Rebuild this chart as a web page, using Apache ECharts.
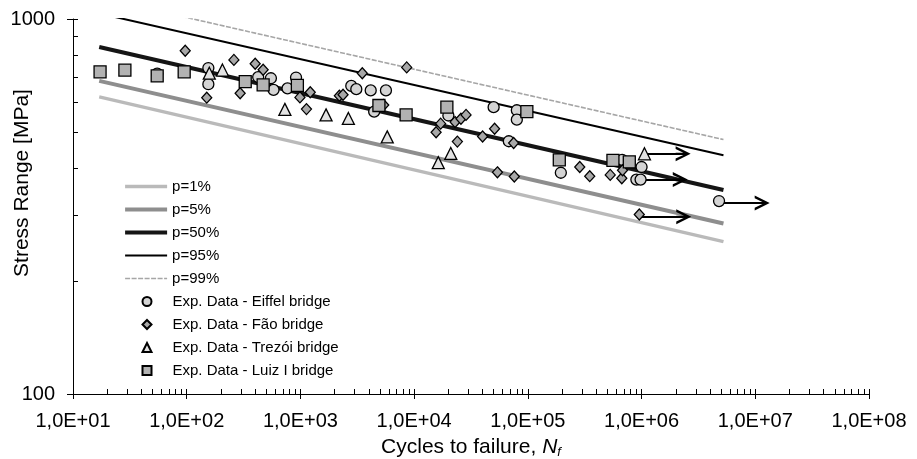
<!DOCTYPE html>
<html>
<head>
<meta charset="utf-8">
<title>S-N curves</title>
<script src="https://cdn.jsdelivr.net/npm/echarts@6/dist/echarts.min.js"></script>
<style>
  html, body { margin: 0; padding: 0; background: #fff; }
  #chart { width: 917px; height: 459px; }
</style>
</head>
<body>
<div id="chart"></div>
<script>
const FONT = '"Liberation Sans", Arial, Helvetica, sans-serif';

// Design curves for each probability of failure: [cycles, stress range] at both ends
const curveNames = ['p=1%', 'p=5%', 'p=50%', 'p=95%', 'p=99%'];
const curveP1  = [[17, 620], [5.25e6, 255]];
const curveP5  = [[17, 684], [5.25e6, 285]];
const curveP50 = [[17, 842], [5.25e6, 350]];
const curveP95 = [[17, 1035], [5.25e6, 433]];
const curveP99 = [[17, 1140], [5.25e6, 477]];

// Fatigue test results: [cycles to failure, stress range in MPa]
const seriesNames = [
  'Exp. Data - Eiffel bridge',
  'Exp. Data - Fão bridge',
  'Exp. Data - Trezói bridge',
  'Exp. Data - Luiz I bridge'
];
const eiffelData = [
  [55, 715], [155, 740], [155, 670], [425, 700], [550, 695], [580, 647],
  [915, 698], [770, 653], [2800, 663], [3100, 650], [4150, 645], [5650, 645],
  [4450, 566], [20000, 553], [50000, 582], [80000, 571], [80000, 539],
  [68000, 472], [195000, 389], [675000, 421], [1.0e6, 403], [900000, 373],
  [980000, 373], [4.8e6, 327]
];
const faoData = [
  [97, 823], [150, 617], [260, 778], [400, 760], [470, 732], [295, 634],
  [990, 618], [1220, 638], [1130, 575], [2200, 624], [2370, 628], [3500, 717],
  [8600, 743], [5400, 590], [17100, 526], [15600, 499], [22900, 531],
  [25800, 542], [28600, 555], [24000, 471], [51000, 510], [40000, 486],
  [75000, 467], [54000, 390], [76000, 380], [286000, 403], [350000, 381],
  [530000, 384], [670000, 376], [680000, 395], [955000, 301]
];
const trezoiData = [
  [158, 717], [206, 731], [730, 574], [1680, 555], [2640, 543], [5800, 485],
  [16300, 414], [21000, 438], [1.06e6, 437]
];
const luizData = [
  [17.3, 723], [28.6, 731], [55, 705], [95, 723], [327, 681], [470, 667],
  [940, 665], [4900, 588], [8500, 555], [19400, 582], [98000, 566],
  [189000, 421], [560000, 420], [780000, 416]
];

// Run-outs (tests stopped without failure): [from cycles, to cycles, stress]
const runOuts = [
  [1.06e6, 2.32e6, 437],
  [980000, 2.19e6, 373],
  [4.8e6, 1.15e7, 323],
  [955000, 2.35e6, 297]
];

// Axis ticks and their labels
const xTickValues = [1e1, 1e2, 1e3, 1e4, 1e5, 1e6, 1e7, 1e8];
const xTickLabels = ['1,0E+01', '1,0E+02', '1,0E+03', '1,0E+04', '1,0E+05', '1,0E+06', '1,0E+07', '1,0E+08'];
const yTickValues = [100, 1000];
const yTickLabels = ['100', '1000'];
const yTitle = 'Stress Range [MPa]';

// Logarithmic sub-ticks: 1..9 times each power of ten inside the axis range
function logSubTicks(lo, hi) {
  const out = [];
  for (let d = lo; d < hi; d *= 10) {
    for (let m = 1; m <= 9; m++) out.push(d * m);
  }
  out.push(hi);
  return out;
}
const xMinorValues = logSubTicks(1e1, 1e8);
const yMinorValues = logSubTicks(100, 1000);

function labelFor(values, labels) {
  return function (v) {
    let best = 0;
    for (let i = 1; i < values.length; i++) {
      if (Math.abs(Math.log10(values[i]) - Math.log10(v)) < Math.abs(Math.log10(values[best]) - Math.log10(v))) best = i;
    }
    return labels[best];
  };
}

// Open arrow head with its shaft, pointing along the run-out line
const ARROW = 'path://M0,15 L7,0 L14,15 L11.4,15 L8,7.27 L8,15 L6,15 L6,7.27 L2.6,15 Z';

function curve(name, data, color, width, type) {
  return {
    type: 'line', name: name, data: data, symbol: 'none', showSymbol: false,
    lineStyle: { color: color, width: width, type: type, cap: 'butt' },
    itemStyle: { color: color },
    z: 1, silent: true, animation: false
  };
}

function points(name, data, symbol, size, fill, z) {
  return {
    type: 'scatter', name: name, data: data, symbol: symbol, symbolSize: size,
    symbolKeepAspect: true,
    itemStyle: { color: fill, borderColor: '#000', borderWidth: 1.3, opacity: 1 },
    z: z, silent: true, animation: false
  };
}

const chart = echarts.init(document.getElementById('chart'), null, { renderer: 'canvas' });

const axisText = { fontSize: 20, fontFamily: FONT, color: '#000' };
const legendText = { fontSize: 15, fontFamily: FONT, color: '#000' };

chart.setOption({
  animation: false,
  backgroundColor: '#fff',
  textStyle: { fontFamily: FONT },
  grid: { left: 73, right: 48, top: 19, bottom: 65, outerBoundsMode: 'none', containLabel: false },
  legend: [
    {
      // probability curves: line sample only, drawn at the series' own width
      orient: 'vertical', left: 123, top: 179, padding: 0,
      itemWidth: 42, itemHeight: 9, itemGap: 8,
      selectedMode: false,
      lineStyle: { width: 'inherit' },
      data: curveNames.map(function (n) { return { name: n, itemStyle: { opacity: 0 } }; }),
      textStyle: legendText
    },
    {
      // test series: marker sample
      orient: 'vertical', left: 141.5, top: 294, padding: 0,
      itemWidth: 9, itemHeight: 9, itemGap: 8,
      selectedMode: false,
      data: seriesNames,
      textStyle: Object.assign({ padding: [0, 0, 0, 16] }, legendText)
    }
  ],
  graphic: [{
    type: 'text', x: 22, y: 183, rotation: Math.PI / 2, silent: true,
    style: { text: yTitle, font: '21px ' + FONT, fill: '#000', align: 'center', verticalAlign: 'middle' }
  }],
  xAxis: [
    {
      type: 'log', logBase: 10, min: 10, max: 1e8, position: 'bottom',
      axisLine: { show: true, lineStyle: { color: '#000', width: 1 } },
      axisTick: { show: true, inside: false, length: 5, customValues: xTickValues, lineStyle: { color: '#000', width: 1 } },
      axisLabel: Object.assign({ customValues: xTickValues, margin: 17, formatter: labelFor(xTickValues, xTickLabels) }, axisText),
      splitLine: { show: false }, minorTick: { show: false },
      name: 'Cycles to failure, {i|N}{s|f}',
      nameLocation: 'middle', nameGap: 42,
      nameTextStyle: {
        fontSize: 21, fontFamily: FONT, color: '#000',
        rich: {
          i: { fontSize: 21, fontFamily: FONT, fontStyle: 'italic', color: '#000' },
          s: { fontSize: 13, fontFamily: FONT, fontStyle: 'italic', color: '#000', padding: [10, 0, 0, 0] }
        }
      }
    },
    {
      type: 'log', logBase: 10, min: 10, max: 1e8, position: 'bottom',
      axisLine: { show: false },
      axisTick: { show: true, inside: true, length: 5, customValues: xMinorValues, lineStyle: { color: '#000', width: 1 } },
      axisLabel: { show: false },
      splitLine: { show: false }
    }
  ],
  yAxis: [
    {
      type: 'log', logBase: 10, min: 100, max: 1000, position: 'left',
      axisLine: { show: true, lineStyle: { color: '#000', width: 1 } },
      axisTick: { show: true, inside: false, length: 6, customValues: yTickValues, lineStyle: { color: '#000', width: 1 } },
      axisLabel: Object.assign({ customValues: yTickValues, margin: 18, formatter: labelFor(yTickValues, yTickLabels) }, axisText),
      splitLine: { show: false }, minorTick: { show: false }
    },
    {
      type: 'log', logBase: 10, min: 100, max: 1000, position: 'left',
      axisLine: { show: false },
      axisTick: { show: true, inside: true, length: 5, customValues: yMinorValues, lineStyle: { color: '#000', width: 1 } },
      axisLabel: { show: false },
      splitLine: { show: false }
    }
  ],
  series: [
    curve('p=1%', curveP1, '#bababa', 3.4, 'solid'),
    curve('p=5%', curveP5, '#8e8e8e', 4, 'solid'),
    curve('p=50%', curveP50, '#151515', 4.2, 'solid'),
    curve('p=95%', curveP95, '#000000', 2, 'solid'),
    curve('p=99%', curveP99, '#a6a6a6', 1.6, [5, 1.5]),
    {
      type: 'lines', coordinateSystem: 'cartesian2d', polyline: false,
      data: runOuts.map(function (r) { return { coords: [[r[0], r[2]], [r[1], r[2]]] }; }),
      symbol: ['none', ARROW], symbolSize: [14, 15],
      lineStyle: { color: '#000', width: 2.2, opacity: 1, curveness: 0 },
      itemStyle: { color: '#000' },
      z: 2, silent: true, animation: false
    },
    points(seriesNames[0], eiffelData, 'circle', 11, '#d4d4d4', 3),
    points(seriesNames[1], faoData, 'diamond', [10, 11], '#a8a8a8', 4),
    points(seriesNames[2], trezoiData, 'triangle', 12, '#e2e2e2', 5),
    points(seriesNames[3], luizData, 'rect', 12, '#b2b2b2', 6)
  ]
});
</script>
</body>
</html>
